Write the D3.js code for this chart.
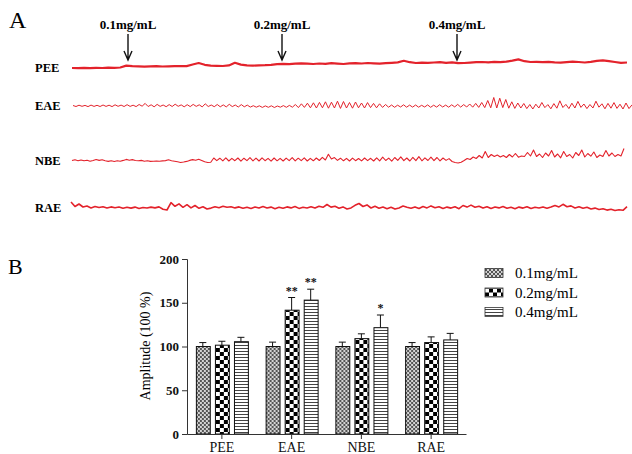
<!DOCTYPE html>
<html>
<head>
<meta charset="utf-8">
<script src="https://cdn.jsdelivr.net/npm/d3@7"></script>
<style>
  body { margin: 0; background: #fff; }
  svg { display: block; font-family: "Liberation Serif", "Times New Roman", serif; }
</style>
</head>
<body>
<svg id="chart" width="632" height="454"></svg>
<script>
const traceNames = ['PEE', 'EAE', 'NBE', 'RAE'];
const doses = ['0.1mg/mL', '0.2mg/mL', '0.4mg/mL'];

const peeTrace = [
  0, -0.2, 0.1, -0.1, 0.2, 0.0, 0.3, 0.1, 0.5, 2.4, 1.8, 1.6, 1.4, 1.6, 1.8, 1.5, 1.7, 1.8, 2.0, 1.9,
  3.5, 5.0, 3.2, 2.4, 2.2, 2.0, 2.6, 5.2, 3.4, 2.6, 2.4, 2.6, 2.8, 3.2, 3.8, 4.2, 3.9, 4.3, 4.6, 4.4,
  4.0, 4.5, 4.2, 4.8, 4.4, 4.0, 4.6, 4.9, 4.5, 5.0, 4.7, 4.3, 4.8, 5.2, 5.6, 7.2, 5.8, 5.0, 5.4, 5.1,
  5.5, 5.8, 5.2, 5.6, 4.8, 5.0, 5.4, 5.8, 6.0, 5.7, 6.2, 5.9, 6.3, 7.3, 8.6, 6.8, 6.0, 6.2, 5.8, 6.1,
  5.6, 5.3, 5.9, 6.4, 6.0, 5.5, 6.2, 7.2, 7.6, 6.8, 6.0, 5.2, 5.5
];
const eaeTrace = [
  0.5, -0.5, 0.8, -0.3, 0.6, -0.6, 0.9, -0.4, 0.7, -0.5, 1.0, -0.4, 0.8, -0.6, 1.2, -0.3, 0.9, -0.5, 1.3, -0.4,
  0.8, -0.6, 1.5, -0.2, 2.6, -0.5, 1.2, -0.8, 1.6, -0.4, 1.0, -0.7, 1.4, -0.5, 1.8, -0.3, 1.1, -0.8, 1.3, -0.6,
  1.6, -0.4, 1.2, -0.9, 2.2, -0.5, 1.0, -0.7, 1.5, -0.8, 1.1, -0.9, 1.7, -0.6, 1.0, -1.0, 1.4, -0.8, 0.9, -1.1,
  0.3, -1.2, 0.2, -1.4, 0.1, -1.3, 0.2, -1.5, 0.0, -1.2, 0.4, -1.3, 0.6, -1.2, 1.5, -1.6, 2.2, -1.4, 2.8, -1.8,
  3.2, -2.0, 3.6, -1.8, 4.2, -2.2, 3.8, -2.0, 4.8, -2.4, 4.5, -2.0, 3.5, -2.2, 4.0, -1.8, 3.0, -2.0, 3.4, -1.6,
  2.6, -1.8, 2.2, -1.4, 1.5, -1.2, 1.0, -1.3, 0.8, -1.0, 1.2, -1.2, 0.9, -1.1, 1.0, -1.2, 0.7, -1.0, 1.1, -1.3,
  0.8, -1.1, 1.3, -1.0, 0.9, -1.2, 1.2, -0.9, 1.6, -1.1, 1.4, -1.0, 2.0, -1.2, 2.6, -1.4, 3.5, -1.6, 5.5, -1.8,
  8.5, -2.0, 7.8, -1.6, 6.5, -2.2, 4.2, -2.4, 3.0, -2.0, 2.5, -2.6, 1.5, -3.0, 1.8, -2.0, 3.5, -1.6, 1.4, -2.8,
  2.4, -2.2, 5.2, -1.5, 1.6, -2.6, 2.8, -2.0, 4.6, -1.4, 2.0, -2.6, 1.5, -2.0, 4.8, -1.2, 2.2, -2.8, 2.6, -2.2,
  3.4, -2.4, 1.8, -3.0, 3.0, -2.6, 1.2
];
const nbeTrace = [
  0.5, 1.2, 0.3, 1.0, 0.2, 0.8, -0.2, 0.5, 1.5, 0.6, 1.2, 0.2, -0.4, 0.3, -0.5, 0.2, -0.3, 0.6, 1.6, 0.8,
  1.4, 0.5, 0.2, 0.6, -0.2, 0.3, -0.4, -0.2, 0.0, -0.3, 0.1, 0.4, 1.2, 0.3, -0.2, -0.8, -1.5, -1.0, -0.4, 0.6,
  1.4, 0.8, 1.8, 0.6, -0.8, -1.5, -1.2, 3.0, 0.4, 2.8, 0.2, 3.2, 0.0, 2.6, 0.3, 3.0, -0.2, 2.8, 0.4, 3.3,
  0.2, 2.9, 0.0, 3.1, 0.3, 2.6, -0.1, 3.0, 0.2, 2.7, 0.0, 2.9, 0.4, 3.4, 0.1, 2.8, 0.3, 3.2, 0.0, 2.6,
  0.2, 3.0, 0.5, 3.6, 1.0, 6.8, 2.0, 3.4, 0.6, 2.8, 0.2, 2.6, 0.0, 2.9, 0.3, 2.5, 0.1, 3.0, 0.4, 2.7,
  0.0, 3.2, 0.2, 3.8, 0.5, 2.9, -0.2, 3.5, 0.6, 4.2, 0.3, 3.0, 0.0, 3.6, 0.4, 4.4, 0.2, 3.2, 0.5, 3.9,
  0.4, 3.5, 0.2, 3.0, 0.6, 2.4, -0.5, -1.5, -2.0, -1.2, 0.5, 2.5, 1.5, 4.0, 2.5, 5.5, 3.0, 9.5, 3.5, 6.5,
  4.5, 6.0, 4.0, 5.5, 3.5, 6.5, 4.0, 7.5, 3.8, 5.0, 4.5, 8.5, 5.0, 11.0, 4.5, 7.0, 3.5, 8.0, 5.0, 10.5,
  4.0, 7.0, 3.2, 9.5, 4.5, 6.5, 3.0, 8.5, 5.5, 11.0, 4.0, 7.5, 4.8, 9.0, 3.5, 6.0, 4.5, 10.5, 5.0, 8.0,
  4.5, 6.5, 5.0, 12.5
];
const raeTrace = [
  5.5, 1.0, 3.5, 0.5, 1.5, -0.5, 1.0, 0.0, 0.8, -0.5, 0.6, -0.3, 0.5, -0.8, 0.2, -0.6, 0.4, -1.0, 0.0, -0.5,
  0.4, -0.4, 0.6, -1.8, -2.5, 4.8, 1.2, 3.6, 0.2, 2.8, -0.4, 2.0, -0.8, 0.8, -1.5, -0.6, 0.8, -0.2, 1.2, 0.2,
  0.8, -0.4, 0.6, -0.8, 0.2, -1.0, 0.5, -0.6, 0.9, -0.5, 0.4, -1.2, 0.2, -0.8, 0.6, -0.4, 1.0, -0.9, 0.2, -0.5,
  0.8, -0.6, 1.2, 0.2, 3.0, 0.4, 1.2, -0.8, 0.6, -1.5, -0.4, 2.2, 4.0, 1.0, 2.6, -0.5, 1.2, -0.8, 0.5, -1.2,
  0.2, -1.6, -0.4, 1.4, 0.2, -0.8, 0.6, -1.0, 1.0, -0.4, 1.6, -0.2, 0.8, -0.9, 0.4, -0.6, 0.8, -1.2, 2.0, 0.4,
  2.4, 0.2, 1.2, -0.6, 0.8, -1.0, 0.5, -0.4, 0.9, -0.8, 0.3, -1.2, 0.4, -0.6, 0.8, -1.0, 0.2, -0.5, 0.6, -0.8,
  0.4, 2.0, 0.6, 3.2, 0.8, 1.6, -0.5, 0.8, -0.8, 0.2, -1.5, -0.6, -2.0, -1.2, -2.6, -1.8, -3.0, -2.2, -2.8, 0.8
];

// panel B: amplitude (% of control), mean and upper error
const categories = ['PEE', 'EAE', 'NBE', 'RAE'];
const lowDose = [100, 100, 100, 100];
const midDose = [101.5, 141.5, 109, 104.5];
const highDose = [105.5, 153, 121.5, 107.5];
const lowErr = [4.5, 5, 5, 4.5];
const midErr = [4.5, 14.5, 5.5, 6.5];
const highErr = [5, 12.5, 14.5, 7.5];
const stars = [['', '', ''], ['', '**', '**'], ['', '', '*'], ['', '', '']];
const yTicks = [0, 50, 100, 150, 200];

const svg = d3.select('#chart');
const red = '#e3222b';

// ---------- panel A ----------
svg.append('text').attr('x', 9).attr('y', 28).attr('font-size', 24).text('A');

const traces = [
  { name: 'PEE', values: peeTrace, x0: 72, x1: 627, base: 68, w: 2.2 },
  { name: 'EAE', values: eaeTrace, x0: 73, x1: 632, base: 106, w: 1 },
  { name: 'NBE', values: nbeTrace, x0: 72, x1: 624, base: 161, w: 1.1 },
  { name: 'RAE', values: raeTrace, x0: 71, x1: 627, base: 207.5, w: 1.6 }
];
const amp = d3.scaleLinear().domain([-20, 20]).range([20, -20]);

traces.forEach(t => {
  const tx = d3.scaleLinear().domain([0, t.values.length - 1]).range([t.x0, t.x1]);
  const g = svg.append('g').attr('transform', `translate(0,${t.base})`);
  g.append('path')
    .datum(t.values)
    .attr('fill', 'none')
    .attr('stroke', red)
    .attr('stroke-width', t.w)
    .attr('stroke-linejoin', 'round')
    .attr('d', d3.line().x((d, i) => tx(i)).y(d => amp(d)));
  svg.append('text')
    .attr('x', 35).attr('y', t.base + 4)
    .attr('font-size', 12.5).attr('font-weight', 'bold')
    .text(t.name);
});

const arrowX = [128, 282, 457];
doses.forEach((d, i) => {
  const x = arrowX[i];
  svg.append('text')
    .attr('x', x).attr('y', 29).attr('text-anchor', 'middle')
    .attr('font-size', 13).attr('font-weight', 'bold')
    .text(d);
  svg.append('path')
    .attr('d', `M${x},34V60M${x - 4},51L${x},60L${x + 4},51`)
    .attr('fill', 'none').attr('stroke', '#111').attr('stroke-width', 1.4);
});

// ---------- panel B ----------
svg.append('text').attr('x', 8).attr('y', 274).attr('font-size', 22).text('B');

const defs = svg.append('defs');
const p1 = defs.append('pattern').attr('id', 'pat0').attr('patternUnits', 'userSpaceOnUse')
  .attr('width', 4).attr('height', 4);
p1.append('rect').attr('width', 4).attr('height', 4).attr('fill', '#d4d4d4');
p1.append('rect').attr('width', 2).attr('height', 2).attr('fill', '#555');
p1.append('rect').attr('x', 2).attr('y', 2).attr('width', 2).attr('height', 2).attr('fill', '#555');

const p2 = defs.append('pattern').attr('id', 'pat1').attr('patternUnits', 'userSpaceOnUse')
  .attr('width', 8).attr('height', 8);
p2.append('rect').attr('width', 8).attr('height', 8).attr('fill', '#fff');
p2.append('rect').attr('width', 4).attr('height', 4).attr('fill', '#000');
p2.append('rect').attr('x', 4).attr('y', 4).attr('width', 4).attr('height', 4).attr('fill', '#000');

const p3 = defs.append('pattern').attr('id', 'pat2').attr('patternUnits', 'userSpaceOnUse')
  .attr('width', 4).attr('height', 3);
p3.append('rect').attr('width', 4).attr('height', 3).attr('fill', '#fff');
p3.append('rect').attr('y', 0).attr('width', 4).attr('height', 1).attr('fill', '#444');

const x0 = d3.scaleBand().domain(categories).range([187, 466]);
const x1 = d3.scaleBand().domain(doses).range([0, 52]).paddingInner(0.27);
const y = d3.scaleLinear().domain([0, 200]).range([434, 259]);

const rows = categories.map((c, i) => doses.map((d, j) => ({
  cat: c, dose: d, j,
  v: [lowDose, midDose, highDose][j][i],
  e: [lowErr, midErr, highErr][j][i],
  star: stars[i][j]
})));

const groups = svg.append('g').selectAll('g').data(rows).enter().append('g')
  .attr('transform', d => `translate(${x0(d[0].cat) + x0.bandwidth() / 2 - 26},0)`);

const bar = groups.selectAll('g').data(d => d).enter().append('g');
bar.append('line')
  .attr('x1', d => x1(d.dose) + x1.bandwidth() / 2).attr('x2', d => x1(d.dose) + x1.bandwidth() / 2)
  .attr('y1', d => y(d.v)).attr('y2', d => y(d.v + d.e))
  .attr('stroke', '#111').attr('stroke-width', 1);
bar.append('line')
  .attr('x1', d => x1(d.dose) + x1.bandwidth() / 2 - 3.5).attr('x2', d => x1(d.dose) + x1.bandwidth() / 2 + 3.5)
  .attr('y1', d => y(d.v + d.e)).attr('y2', d => y(d.v + d.e))
  .attr('stroke', '#111').attr('stroke-width', 1);
bar.append('rect')
  .attr('x', d => x1(d.dose) + 0.5)
  .attr('y', d => y(d.v))
  .attr('width', x1.bandwidth())
  .attr('height', d => y(0) - y(d.v))
  .attr('fill', d => `url(#pat${d.j})`)
  .attr('stroke', '#111').attr('stroke-width', 1);
bar.filter(d => d.star).append('text')
  .attr('x', d => x1(d.dose) + x1.bandwidth() / 2)
  .attr('y', d => y(d.v + d.e) - 3)
  .attr('text-anchor', 'middle').attr('font-size', 12).attr('font-weight', 'bold')
  .attr('fill', '#111')
  .text(d => d.star);

const yAxis = svg.append('g').attr('transform', 'translate(187,0)')
  .call(d3.axisLeft(y).tickValues(yTicks).tickSize(5).tickPadding(3));
yAxis.select('.domain').attr('stroke', '#333');
yAxis.selectAll('line').attr('stroke', '#333');
yAxis.selectAll('text').attr('font-size', 13).attr('font-weight', 'bold')
  .attr('font-family', '"Liberation Serif", serif').attr('fill', '#111');

const xAxis = svg.append('g').attr('transform', 'translate(0,434)')
  .call(d3.axisBottom(x0).tickSize(5).tickPadding(3).tickSizeOuter(0));
xAxis.select('.domain').attr('stroke', '#333');
xAxis.selectAll('line').attr('stroke', '#333');
xAxis.selectAll('text').attr('font-size', 14)
  .attr('font-family', '"Liberation Serif", serif').attr('fill', '#111');

svg.append('text')
  .attr('transform', 'translate(150,346) rotate(-90)')
  .attr('text-anchor', 'middle').attr('font-size', 14)
  .text('Amplitude (100 %)');

const legend = svg.append('g').selectAll('g').data(doses).enter().append('g')
  .attr('transform', (d, i) => `translate(485,${273 + i * 19.5})`);
legend.append('rect')
  .attr('x', 0).attr('y', -4.5).attr('width', 18).attr('height', 9)
  .attr('fill', (d, i) => `url(#pat${i})`)
  .attr('stroke', '#333').attr('stroke-width', 0.8);
legend.append('text')
  .attr('x', 30).attr('y', 5).attr('font-size', 15)
  .text(d => d);
</script>
</body>
</html>
